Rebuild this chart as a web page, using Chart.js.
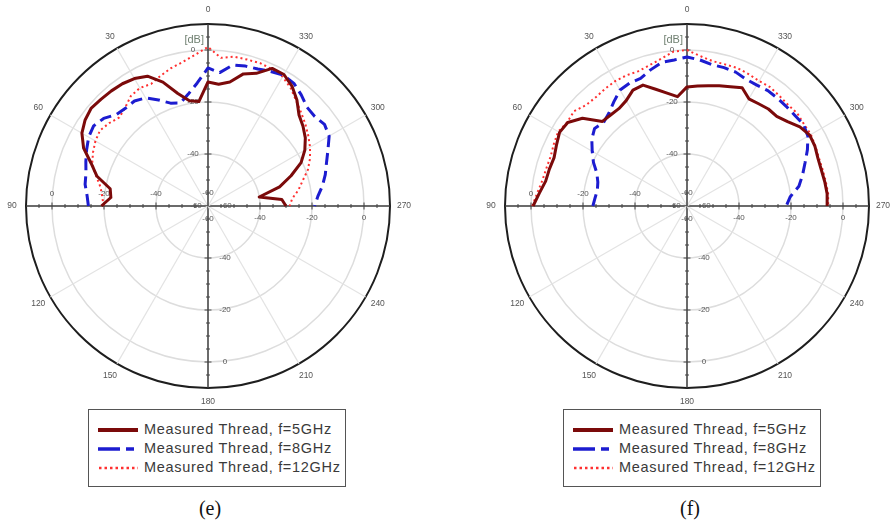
<!DOCTYPE html>
<html>
<head>
<meta charset="utf-8">
<script src="https://cdn.jsdelivr.net/npm/chart.js@4.4.1/dist/chart.umd.min.js"></script>
<style>
  body { margin: 0; background: #fff; width: 893px; height: 524px; position: relative; overflow: hidden; }
  canvas { position: absolute; top: 0; }
  .legend { position: absolute; top: 409px; width: 256px; height: 76px; border: 1px solid #555; background: #fff; }
  .row { position: absolute; left: 9px; height: 19px; line-height: 19px; font: 14.5px "Liberation Sans", Arial, sans-serif; letter-spacing: 0.7px; color: #3a3a3a; white-space: nowrap; }
  .row svg { vertical-align: middle; margin-right: 6px; }
  .caption { position: absolute; top: 496px; width: 60px; text-align: center; font: 20px "Liberation Serif", "Times New Roman", serif; line-height: 24px; color: #111; }
</style>
</head>
<body>
<canvas id="chartE" width="416" height="412" style="left:0px"></canvas>
<canvas id="chartF" width="416" height="412" style="left:479px"></canvas>

<div class="legend" style="left:88px">
  <div class="row" style="top:11px"><svg width="40" height="8"><line x1="0" y1="4" x2="40" y2="4" stroke="#7b0a0a" stroke-width="4"/></svg>Measured Thread, f=5GHz</div>
  <div class="row" style="top:30px"><svg width="40" height="8"><line x1="0" y1="4" x2="40" y2="4" stroke="#1c1cd0" stroke-width="3.5" stroke-dasharray="22 6 8 6"/></svg>Measured Thread, f=8GHz</div>
  <div class="row" style="top:49px"><svg width="40" height="8"><line x1="1" y1="4" x2="40" y2="4" stroke="#ff3030" stroke-width="2.5" stroke-dasharray="2.5 3"/></svg>Measured Thread, f=12GHz</div>
</div>
<div class="legend" style="left:563px">
  <div class="row" style="top:11px"><svg width="40" height="8"><line x1="0" y1="4" x2="40" y2="4" stroke="#7b0a0a" stroke-width="4"/></svg>Measured Thread, f=5GHz</div>
  <div class="row" style="top:30px"><svg width="40" height="8"><line x1="0" y1="4" x2="40" y2="4" stroke="#1c1cd0" stroke-width="3.5" stroke-dasharray="22 6 8 6"/></svg>Measured Thread, f=8GHz</div>
  <div class="row" style="top:49px"><svg width="40" height="8"><line x1="1" y1="4" x2="40" y2="4" stroke="#ff3030" stroke-width="2.5" stroke-dasharray="2.5 3"/></svg>Measured Thread, f=12GHz</div>
</div>
<div class="caption" style="left:180px">(e)</div>
<div class="caption" style="left:660px">(f)</div>

<script>
// measured angles (deg, counter-clockwise from top), right half -> top -> left half
const angles = [270, 275, 280, 285, 290, 295, 300, 305, 310, 315, 320, 325, 330, 335, 340, 345, 350, 355,
                0, 5, 10, 15, 20, 25, 30, 35, 40, 45, 50, 55, 60, 65, 70, 75, 80, 85, 90];

// panel (e)
const e5GHz  = [-30, -31.5, -40, -31.5, -26, -20.5, -17, -14.3, -12.3, -10.5, -6.8, -3.7, -1.6, -1.6, -5.7, -7.4, -11.6, -13,
                -12.3, -19.7, -18.9, -15.2, -9.3, -4.9, -3.4, -2.6, -2.2, -1.9, -1.4, -2.3, -4.0, -7.2, -12.2, -15.8, -21.8, -22.5, -19];
const e8GHz  = [-19, -17.6, -15.3, -13.3, -11.5, -9.1, -6.2, -5.3, -6.4, -6.2, -4.2, -2.4, -1.9, -2.9, -3.9, -4.3, -4.9, -8.5,
                -6.9, -12.5, -16.3, -19, -17.9, -15, -12, -10.7, -10.8, -10.2, -7.6, -6.3, -7, -8.5, -10, -11.4, -12, -13.3, -14];
const e12GHz = [-28.6, -27.5, -24.7, -22.3, -19.1, -16.7, -14.7, -12.9, -11.1, -9.3, -7.2, -4.6, -2.6, -1.9, -1.5, -1.7, -1.7, -2.8,
                1.2, -1.7, -3.8, -5.1, -6.7, -8.2, -7.6, -8.3, -10.5, -11.8, -10.4, -9.3, -10, -11.2, -12.6, -15.5, -18, -19.2, -19.8];

// panel (f)
const f5GHz  = [-6.1, -5.9, -6.2, -6.5, -6.4, -5.7, -5.5, -7, -9.5, -11.2, -11.3, -12, -12.4, -9.8, -11.2, -12.1, -13, -13.7,
                -14.2, -17.8, -15.9, -13.5, -10.5, -10.8, -13.2, -14.3, -14.3, -14, -7.5, -4, -3.4, -4.6, -5.6, -5.2, -4.8, -3, -0.8];
const f8GHz  = [-21.8, -20.2, -16.3, -14, -11.7, -8.9, -6.3, -5.3, -5.8, -5.9, -5.9, -5.8, -6.3, -6.2, -5.2, -4.9, -4.8, -3.6,
                -2.7, -3.6, -3.9, -5.8, -7.8, -7.8, -8.5, -11, -13.3, -14.6, -13.6, -15.3, -17.9, -20.3, -23.1, -24.5, -25, -24.5, -23.8];
const f12GHz = [-5.7, -5.5, -5.8, -6, -6, -5.5, -5, -5.1, -4.6, -5, -4.7, -4.2, -4.5, -4, -3.5, -3.6, -3.4, -2.1,
                0, -0.4, -2.5, -4, -4.9, -4.6, -4.6, -5, -5.4, -5.1, -3.3, -3.8, -2.8, -3.5, -4.2, -4, -3.5, -2.2, -0.5];

const angleTicks = [0, 30, 60, 90, 120, 150, 180, 210, 240, 270, 300, 330];
const radialTicks = [-60, -40, -20, 0];
const rMin = -60, rMax = 10;

const STEP = 5;
const COUNT = 360 / STEP;
// radar goes clockwise, the plot counts counter-clockwise
function indexOf(angle) { return ((360 - angle) % 360) / STEP; }
const radarLabels = [];
for (let i = 0; i < COUNT; i++) radarLabels.push(String((360 - i * STEP) % 360));

function toRadar(values) {
  const out = new Array(COUNT).fill(null);
  angles.forEach((a, k) => { out[indexOf(a)] = values[k]; });
  return out;
}

const axisIdx = [0, 90, 180, 270].map(indexOf);

// angle labels, radial tick labels, axis tick marks and the [dB] caption
const polarDecor = {
  id: 'polarDecor',
  beforeDatasetsDraw(chart) {
    const s = chart.scales.r;
    const ctx = chart.ctx;
    ctx.save();
    // small tick marks along the main axes
    ctx.strokeStyle = '#444';
    ctx.lineWidth = 1;
    for (const i of axisIdx) {
      const ang = s.getIndexAngle(i) - Math.PI / 2;
      const nx = -Math.sin(ang), ny = Math.cos(ang);
      for (let v = rMin + 5; v < rMax; v += 5) {
        const p = s.getPointPosition(i, s.getDistanceFromCenterForValue(v));
        const len = (v % 20 === 0) ? 3.5 : 2;
        ctx.beginPath();
        ctx.moveTo(p.x - nx * len, p.y - ny * len);
        ctx.lineTo(p.x + nx * len, p.y + ny * len);
        ctx.stroke();
      }
    }
    // radial tick labels on all four half axes
    ctx.fillStyle = '#555';
    ctx.font = '8px "Liberation Sans", Arial, sans-serif';
    ctx.textAlign = 'center';
    ctx.textBaseline = 'middle';
    const offs = { 0: [-15, 0], 90: [0, -12], 180: [17, 0], 270: [0, 12] };
    const centerOffs = { 0: [0, -13], 90: [-12, 0], 180: [0, 13], 270: [18, 0] };
    for (const a of [0, 90, 180, 270]) {
      const i = indexOf(a);
      for (const v of radialTicks) {
        const p = s.getPointPosition(i, s.getDistanceFromCenterForValue(v));
        const [dx, dy] = v === rMin ? centerOffs[a] : offs[a];
        ctx.fillText(String(v), p.x + dx, p.y + dy);
      }
    }
    // angle labels outside the circle
    ctx.font = '8.5px "Liberation Sans", Arial, sans-serif';
    ctx.fillStyle = '#555';
    for (const a of angleTicks) {
      const p = s.getPointPosition(indexOf(a), s.drawingArea + 14);
      ctx.fillText(String(a), p.x, p.y);
    }
    // unit caption
    const top = s.getPointPosition(0, s.getDistanceFromCenterForValue(4));
    ctx.font = '11px "Liberation Sans", Arial, sans-serif';
    ctx.fillStyle = '#6f7f70';
    ctx.textAlign = 'right';
    ctx.fillText('[dB]', top.x - 4, top.y);
    ctx.restore();
  }
};

function makeChart(id, s5, s8, s12) {
  return new Chart(document.getElementById(id), {
    type: 'radar',
    data: {
      labels: radarLabels,
      datasets: [
        { label: 'Measured Thread, f=5GHz', data: toRadar(s5), borderColor: '#7b0a0a', borderWidth: 3 },
        { label: 'Measured Thread, f=8GHz', data: toRadar(s8), borderColor: '#1c1cd0', borderWidth: 3, borderDash: [12, 6] },
        { label: 'Measured Thread, f=12GHz', data: toRadar(s12), borderColor: '#ff3030', borderWidth: 2, borderDash: [2, 3] }
      ]
    },
    options: {
      responsive: false,
      animation: false,
      devicePixelRatio: 1,
      layout: { padding: { left: 26, right: 26, top: 24, bottom: 24 } },
      elements: {
        point: { radius: 0, hoverRadius: 0 },
        line: { tension: 0, fill: false, borderJoinStyle: 'round', spanGaps: false }
      },
      plugins: { legend: { display: false }, tooltip: { enabled: false } },
      scales: {
        r: {
          min: rMin,
          max: rMax,
          ticks: { display: false, stepSize: 20 },
          pointLabels: { display: false },
          grid: {
            circular: true,
            color: (c) => c.tick && c.tick.value === rMax ? '#1e1e1e' : '#dddddd',
            lineWidth: (c) => c.tick && c.tick.value === rMax ? 2 : 1.5
          },
          angleLines: {
            color: (c) => axisIdx.includes(c.index) ? '#3a3a3a' : '#e3e3e3',
            lineWidth: (c) => axisIdx.includes(c.index) ? 1.5 : ((c.index * STEP) % 30 === 0 ? 1.2 : 0)
          }
        }
      }
    },
    plugins: [polarDecor]
  });
}

makeChart('chartE', e5GHz, e8GHz, e12GHz);
makeChart('chartF', f5GHz, f8GHz, f12GHz);
</script>
</body>
</html>
